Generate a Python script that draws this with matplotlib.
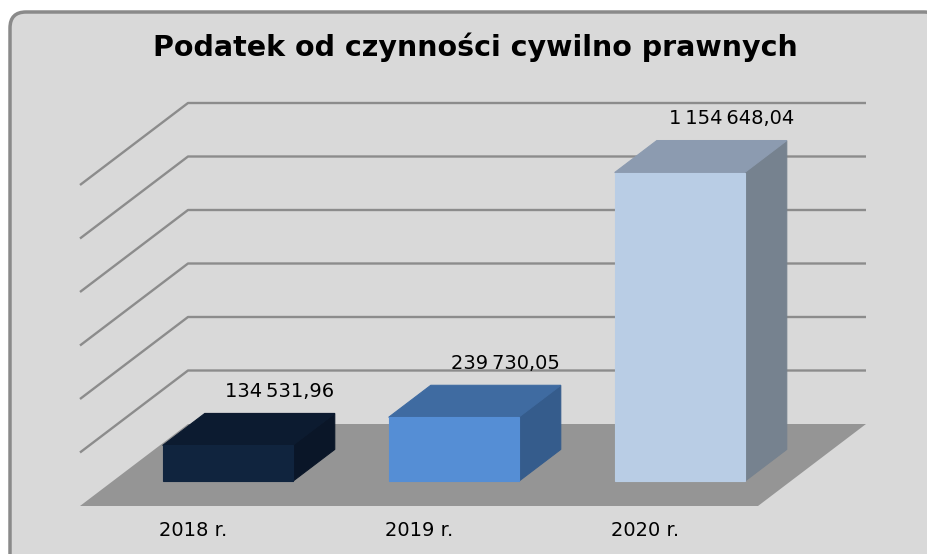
import matplotlib
matplotlib.use("Agg")
import matplotlib.pyplot as plt
from matplotlib.patches import Polygon, FancyBboxPatch

title = "Podatek od czynności cywilno prawnych"
years = ["2018 r.", "2019 r.", "2020 r."]
values = [134531.96, 239730.05, 1154648.04]
labels = ["134\u202f531,96", "239\u202f730,05", "1\u202f154\u202f648,04"]
front_colors = ["#10243e", "#558ed5", "#b9cde5"]
top_colors = ["#0c1b30", "#3f6ba1", "#8c9bb0"]
side_colors = ["#0a1628", "#355c8c", "#76828f"]
grid_step = 200000
v_max = 1200000

# pseudo 3D projection into pixel space
X0, Y0 = 80, 506          # floor front-left corner
CAT_W = 226               # width of one category on the floor front
DX, DY = 108, -82         # depth vector of the floor
SCALE = 321 / v_max       # pixels per unit of value


def proj(c, v, d):
    return (X0 + c * CAT_W + d * DX, Y0 - v * SCALE + d * DY)


fig = plt.figure(figsize=(9.28, 5.54), dpi=100)
fig.patch.set_facecolor("white")
ax = fig.add_axes([0, 0, 1, 1])
ax.set_xlim(0, 928)
ax.set_ylim(554, 0)
ax.axis("off")

# chart area
ax.add_patch(FancyBboxPatch((10, 12), 930, 560, boxstyle="round,pad=0,rounding_size=16",
                            facecolor="#d9d9d9", edgecolor="#8a8a8a", linewidth=2.5, zorder=0))

# gridlines on back wall and left wall
ncat = len(years)
v = grid_step
while v <= v_max:
    xs, ys = zip(proj(0, v, 0), proj(0, v, 1), proj(ncat, v, 1))
    ax.plot(xs, ys, color="#8c8c8c", lw=1.7, zorder=1, solid_capstyle="butt")
    v += grid_step

# floor
ax.add_patch(Polygon([proj(0, 0, 0), proj(ncat, 0, 0), proj(ncat, 0, 1), proj(0, 0, 1)],
                     closed=True, facecolor="#959595", edgecolor="none", zorder=2))

# bars
w = 0.575
d0, d1 = 0.30, 0.69
for i, val in enumerate(values):
    c0, c1 = i + 0.5 - w / 2 + 0.01, i + 0.5 + w / 2 + 0.01
    front = [proj(c0, 0, d0), proj(c1, 0, d0), proj(c1, val, d0), proj(c0, val, d0)]
    top = [proj(c0, val, d0), proj(c1, val, d0), proj(c1, val, d1), proj(c0, val, d1)]
    side = [proj(c1, 0, d0), proj(c1, 0, d1), proj(c1, val, d1), proj(c1, val, d0)]
    ax.add_patch(Polygon(side, closed=True, facecolor=side_colors[i], edgecolor=side_colors[i], lw=0.8, zorder=3))
    ax.add_patch(Polygon(top, closed=True, facecolor=top_colors[i], edgecolor=top_colors[i], lw=0.8, zorder=3))
    ax.add_patch(Polygon(front, closed=True, facecolor=front_colors[i], edgecolor=front_colors[i], lw=0.8, zorder=4))

    lx, ly = proj(i + 0.5, val, d1)
    ax.text(lx + 12, ly - 22, labels[i], ha="center", va="center", fontsize=14,
            family="DejaVu Sans", color="black", zorder=5)

    tx, ty = proj(i + 0.5, 0, 0)
    ax.text(tx, ty + 24, years[i], ha="center", va="center", fontsize=14,
            family="DejaVu Sans", color="black", zorder=5)

ax.text(475, 47, title, ha="center", va="center", fontsize=20.5, fontweight="bold",
        family="DejaVu Sans", color="black")

fig.savefig("out.png", dpi=100, facecolor="white")
